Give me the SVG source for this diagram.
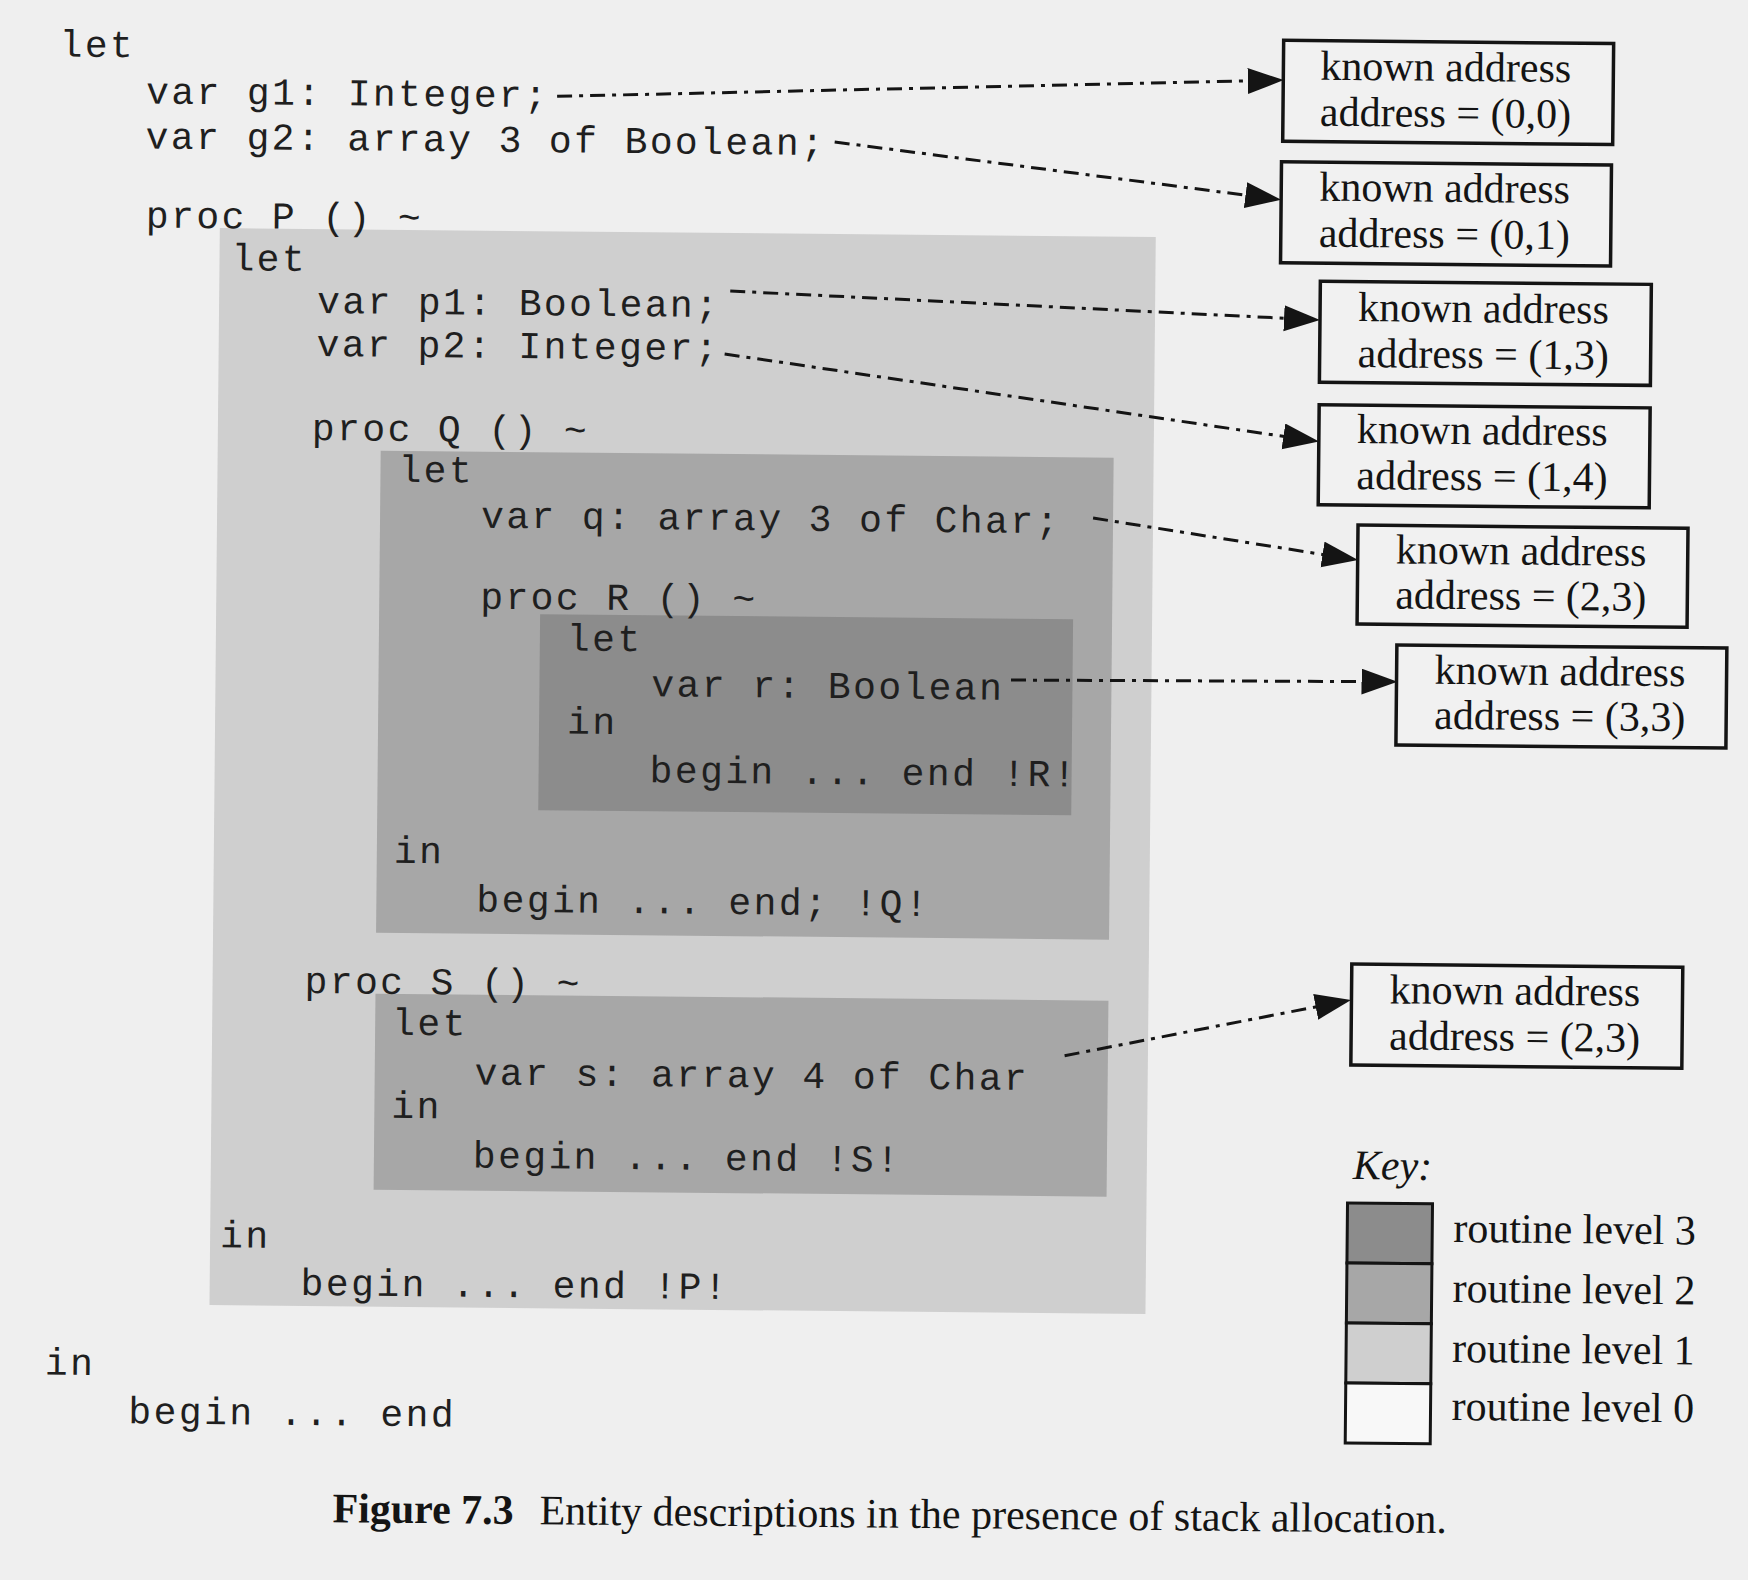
<svg xmlns="http://www.w3.org/2000/svg" width="1748" height="1580" viewBox="0 0 1748 1580">
  <style>
    .code { font-family: "Liberation Mono", "Courier New", monospace; font-size: 38px; letter-spacing: 2.4px; fill: #1f1f1f; }
    .serif { font-family: "Liberation Serif", "Times New Roman", serif; font-size: 42px; fill: #141414; }
    .desc { fill: #f1f1f1; stroke: #141414; stroke-width: 3.5; }
    .conn { fill: none; stroke: #141414; stroke-width: 3; stroke-dasharray: 15 7 4 7; marker-end: url(#arrow); }
    .lv0 { fill: #f8f8f8; }
    .lv1 { fill: #cfcfcf; }
    .lv2 { fill: #a7a7a7; }
    .lv3 { fill: #8c8c8c; }
    .swatch { stroke: #141414; stroke-width: 3; }
  </style>
  <defs>
    <marker id="arrow" markerUnits="userSpaceOnUse" markerWidth="38" markerHeight="28" refX="16" refY="13" orient="auto">
      <path d="M0,0 L36,13 L0,26 Z" fill="#141414"/>
    </marker>
  </defs>

  <!-- page -->
  <rect width="1748" height="1580" fill="#efefef"/>

  <!-- the whole figure sits slightly tilted on the page -->
  <g transform="rotate(0.55)">

    <!-- routine scopes, shaded by nesting level -->
    <g id="scope-P"><rect class="lv1" x="222" y="226" width="936" height="1077"/></g>
    <g id="scope-Q"><rect class="lv2" x="385" y="447" width="733" height="482"/></g>
    <g id="scope-R"><rect class="lv3" x="546" y="609" width="533" height="196"/></g>
    <g id="scope-S"><rect class="lv2" x="385" y="990" width="733" height="196"/></g>

    <!-- program text -->
    <g id="program" class="code">
      <text x="60" y="56">let</text>
      <text x="147" y="102">var g1: Integer;</text>
      <text x="147" y="147">var g2: array 3 of Boolean;</text>
      <text x="148" y="226">proc P () ~</text>
      <text x="234" y="268">let</text>
      <text x="320" y="310">var p1: Boolean;</text>
      <text x="320" y="353">var p2: Integer;</text>
      <text x="316" y="437">proc Q () ~</text>
      <text x="403" y="478">let</text>
      <text x="486" y="523">var q: array 3 of Char;</text>
      <text x="486" y="604">proc R () ~</text>
      <text x="573" y="645">let</text>
      <text x="658" y="690">var r: Boolean</text>
      <text x="574" y="728">in</text>
      <text x="657" y="776">begin ... end !R!</text>
      <text x="402" y="859">in</text>
      <text x="485" y="907">begin ... end; !Q!</text>
      <text x="314" y="990">proc S () ~</text>
      <text x="402" y="1031">let</text>
      <text x="485" y="1080">var s: array 4 of Char</text>
      <text x="402" y="1114">in</text>
      <text x="484" y="1163">begin ... end !S!</text>
      <text x="232" y="1245">in</text>
      <text x="313" y="1292">begin ... end !P!</text>
      <text x="58" y="1374">in</text>
      <text x="142" y="1422">begin ... end</text>
    </g>

    <!-- links from declarations to their entity descriptions -->
    <g id="connectors">
      <line class="conn" x1="558" y1="91" x2="1264.5" y2="68.4"/>
      <line class="conn" x1="836" y1="134" x2="1263.2" y2="185.1"/>
      <line class="conn" x1="733" y1="284" x2="1303" y2="306.5"/>
      <line class="conn" x1="728" y1="347" x2="1303.4" y2="426.2"/>
      <line class="conn" x1="1098" y1="507.5" x2="1343.6" y2="544.1"/>
      <line class="conn" x1="1017.5" y1="670.3" x2="1384" y2="668.4"/>
      <line class="conn" x1="1074.7" y1="1045.5" x2="1341" y2="991"/>
    </g>

    <!-- entity descriptions -->
    <g id="desc-g1">
      <rect class="desc" x="1284" y="28" width="330" height="101"/>
      <text class="serif" x="1321" y="67">known address</text>
      <text class="serif" x="1321" y="113">address = (0,0)</text>
    </g>
    <g id="desc-g2">
      <rect class="desc" x="1283" y="149.5" width="330" height="101"/>
      <text class="serif" x="1321" y="188">known address</text>
      <text class="serif" x="1321" y="234">address = (0,1)</text>
    </g>
    <g id="desc-p1">
      <rect class="desc" x="1323" y="268.5" width="331" height="101"/>
      <text class="serif" x="1361" y="308">known address</text>
      <text class="serif" x="1361" y="354">address = (1,3)</text>
    </g>
    <g id="desc-p2">
      <rect class="desc" x="1323" y="392" width="331" height="100"/>
      <text class="serif" x="1361" y="430">known address</text>
      <text class="serif" x="1361" y="476">address = (1,4)</text>
    </g>
    <g id="desc-q">
      <rect class="desc" x="1363" y="512" width="330" height="99"/>
      <text class="serif" x="1401" y="550">known address</text>
      <text class="serif" x="1401" y="595">address = (2,3)</text>
    </g>
    <g id="desc-r">
      <rect class="desc" x="1403" y="631.5" width="330" height="100"/>
      <text class="serif" x="1441" y="670">known address</text>
      <text class="serif" x="1441" y="715">address = (3,3)</text>
    </g>
    <g id="desc-s">
      <rect class="desc" x="1361" y="951" width="331" height="101"/>
      <text class="serif" x="1399" y="990">known address</text>
      <text class="serif" x="1399" y="1036">address = (2,3)</text>
    </g>

    <!-- key -->
    <g id="key">
      <text class="serif" x="1364" y="1166" font-style="italic">Key:</text>
      <rect class="lv3 swatch" x="1359" y="1190" width="85" height="60"/>
      <rect class="lv2 swatch" x="1359" y="1250" width="85" height="60"/>
      <rect class="lv1 swatch" x="1359" y="1310" width="85" height="60"/>
      <rect class="lv0 swatch" x="1359" y="1370" width="85" height="60"/>
      <text class="serif" x="1465" y="1228">routine level 3</text>
      <text class="serif" x="1465" y="1288">routine level 2</text>
      <text class="serif" x="1465" y="1348">routine level 1</text>
      <text class="serif" x="1465" y="1406">routine level 0</text>
    </g>

    <!-- caption -->
    <g id="caption">
      <text class="serif" x="347" y="1519" font-weight="bold">Figure 7.3</text>
      <text class="serif" x="554" y="1519">Entity descriptions in the presence of stack allocation.</text>
    </g>
  </g>
</svg>
